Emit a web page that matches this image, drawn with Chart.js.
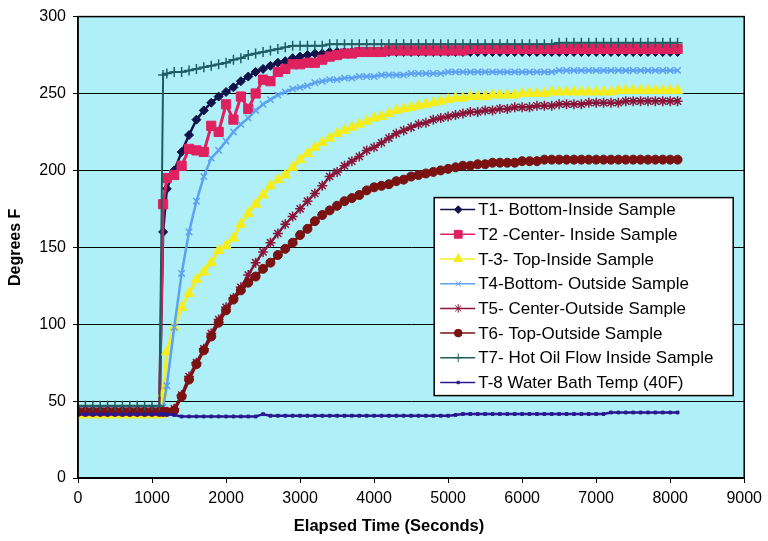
<!DOCTYPE html>
<html>
<head>
<meta charset="utf-8">
<title>Degrees F vs Elapsed Time</title>
<script src="https://cdn.jsdelivr.net/npm/chart.js@4.4.1/dist/chart.umd.min.js"></script>
<style>
  html, body { margin: 0; padding: 0; background: #fff; }
</style>
</head>
<body>
<canvas id="graph" width="768" height="541"></canvas>
<script>
// Elapsed time (seconds), shared by every series
const times = [0, 100, 200, 300, 400, 500, 600, 700, 800, 900, 1000, 1100, 1150,
  1200, 1300, 1400, 1500, 1600, 1700, 1800, 1900,
  2000, 2100, 2200, 2300, 2400, 2500, 2600, 2700, 2800, 2900,
  3000, 3100, 3200, 3300, 3400, 3500, 3600, 3700, 3800, 3900,
  4000, 4100, 4200, 4300, 4400, 4500, 4600, 4700, 4800, 4900,
  5000, 5100, 5200, 5300, 5400, 5500, 5600, 5700, 5800, 5900,
  6000, 6100, 6200, 6300, 6400, 6500, 6600, 6700, 6800, 6900,
  7000, 7100, 7200, 7300, 7400, 7500, 7600, 7700, 7800, 7900, 8000, 8100];

// temperatures, degrees F
const t1Bottom = [44, 44, 44, 44, 44, 44, 44, 44, 44, 44, 44, 44, 160,
  188, 200, 212, 223, 233, 239, 244, 248,
  251, 254, 258, 261, 264, 266, 268, 270, 271, 273,
  274, 275, 276, 276, 277, 277, 277, 277, 277, 277,
  277, 277, 277, 277, 277, 277, 277, 277, 277, 277,
  277, 277, 277, 277, 277, 277, 277, 277, 277, 277,
  277, 277, 277, 277, 277, 277, 277, 277, 277, 277,
  277, 277, 277, 277, 277, 277, 277, 277, 277, 277, 277, 277];
const t2Center = [44, 44, 44, 44, 44, 44, 44, 44, 44, 44, 44, 44, 178,
  195, 197, 203, 214, 213, 212, 229, 225,
  243, 233, 248, 240, 250, 259, 258, 264, 266, 269,
  269, 270, 270, 272, 274, 275, 276, 276, 277, 277,
  277, 277, 278, 278, 278, 278, 278, 278, 278, 278,
  278, 278, 278, 279, 279, 279, 279, 279, 279, 279,
  279, 279, 279, 279, 279, 279, 279, 279, 279, 279,
  279, 279, 279, 279, 279, 279, 279, 279, 279, 279, 279, 279];
const t3Top = [41, 41, 41, 41, 41, 41, 41, 41, 41, 41, 41, 41, 55,
  82, 98, 111, 120, 129, 134, 140, 148,
  151, 156, 165, 172, 178, 184, 190, 194, 197, 202,
  207, 211, 215, 218, 221, 224, 226, 228, 230, 232,
  234, 235, 237, 239, 240, 241, 242, 243, 244, 245,
  246, 247, 247, 248, 248, 248, 249, 249, 249, 249,
  250, 250, 250, 250, 251, 251, 251, 251, 251, 251,
  251, 251, 251, 252, 252, 252, 252, 252, 252, 252, 252, 252];
const t4BottomOut = [45, 45, 45, 45, 45, 45, 45, 45, 45, 45, 45, 45, 46,
  60, 98, 133, 160, 180, 196, 208, 213,
  219, 225, 230, 234, 239, 243, 246, 249, 251, 253,
  254, 255, 257, 258, 259, 259, 260, 260, 261, 261,
  261, 262, 262, 262, 262, 263, 263, 263, 263, 263,
  264, 264, 264, 264, 264, 264, 264, 264, 264, 264,
  264, 264, 264, 264, 264, 265, 265, 265, 265, 265,
  265, 265, 265, 265, 265, 265, 265, 265, 265, 265, 265, 265];
const t5CenterOut = [43, 43, 43, 43, 43, 43, 43, 43, 43, 43, 43, 43, 43,
  43, 45, 54, 66, 75, 84, 94, 103,
  111, 117, 124, 132, 140, 147, 153, 159, 165, 170,
  175, 180, 185, 190, 196, 199, 203, 206, 209, 213,
  215, 218, 221, 224, 226, 228, 230, 231, 233, 234,
  235, 236, 237, 238, 238, 239, 239, 240, 240, 241,
  241, 241, 242, 242, 242, 243, 243, 243, 243, 244,
  244, 244, 244, 244, 245, 245, 245, 245, 245, 245, 245, 245];
const t6TopOut = [43, 43, 43, 43, 43, 43, 43, 43, 43, 43, 43, 43, 43,
  43, 44, 53, 64, 74, 83, 92, 101,
  109, 116, 122, 127, 131, 136, 140, 145, 149, 153,
  158, 162, 167, 171, 174, 177, 180, 182, 184, 187,
  189, 190, 191, 193, 194, 196, 197, 198, 199, 200,
  201, 202, 203, 203, 204, 204, 205, 205, 205, 205,
  206, 206, 206, 207, 207, 207, 207, 207, 207, 207,
  207, 207, 207, 207, 207, 207, 207, 207, 207, 207, 207, 207];
const t7HotOil = [47, 47, 47, 47, 47, 47, 47, 47, 47, 47, 47, 47, 262,
  263, 264, 264, 265, 266, 267, 268, 269,
  270, 272, 273, 275, 276, 277, 278, 279, 280, 281,
  281, 281, 281, 281, 282, 282, 282, 282, 282, 282,
  282, 282, 282, 282, 282, 282, 282, 282, 282, 282,
  282, 282, 282, 282, 282, 282, 282, 282, 282, 282,
  282, 282, 282, 282, 282, 283, 283, 283, 283, 283,
  283, 283, 283, 283, 283, 283, 283, 283, 283, 283, 283, 283];
const t8WaterBath = [41.5, 41.5, 41.5, 41.5, 41.5, 41.5, 41.5, 41.5, 41.5, 41.5, 41.5, 41.5, 41.5,
  41.5, 41, 40, 40, 40, 40, 40, 40,
  40, 40, 40, 40, 40, 41.5, 40.5, 40.5, 40.5, 40.5,
  40.5, 40.5, 40.5, 40.5, 40.5, 40.5, 40.5, 40.5, 40.5, 40.5,
  40.5, 40.5, 40.5, 40.5, 40.5, 40.5, 40.5, 40.5, 40.5, 40.5,
  40.5, 41, 41.6, 41.6, 41.6, 41.6, 41.6, 41.6, 41.6, 41.6,
  41.6, 41.6, 41.6, 41.6, 41.6, 41.6, 41.6, 41.6, 41.6, 41.6,
  41.6, 41.6, 42.6, 42.6, 42.6, 42.6, 42.6, 42.6, 42.6, 42.6, 42.6, 42.6];

const seriesLabels = [
  'T1- Bottom-Inside Sample',
  'T2 -Center- Inside Sample',
  'T-3- Top-Inside Sample',
  'T4-Bottom- Outside Sample',
  'T5- Center-Outside Sample',
  'T6- Top-Outside Sample',
  'T7- Hot Oil Flow Inside Sample',
  'T-8 Water Bath Temp (40F)'
];
const seriesValues = [t1Bottom, t2Center, t3Top, t4BottomOut, t5CenterOut, t6TopOut, t7HotOil, t8WaterBath];
const xTicks = [0, 1000, 2000, 3000, 4000, 5000, 6000, 7000, 8000, 9000];
const yTicks = [0, 50, 100, 150, 200, 250, 300];

// look of each series: [colour, marker, marker radius, line width, marker line width]
const looks = [
  ['#12124a', 'rectRot', 4.5, 2.5, 1],
  ['#e0215f', 'rect', 6.5, 3, 1],
  ['#f4ee1e', 'triangle', 6, 3, 1],
  ['#5ea0f2', 'crossRot', 4.5, 2.5, 1.5],
  ['#8a1538', 'star', 5, 2.5, 1.5],
  ['#7b1212', 'circle', 4.5, 3, 1],
  ['#1f5c60', 'cross', 5, 2, 1.5],
  ['#2a1890', 'rect', 2, 2.5, 1]
];

const FONT = "'Liberation Sans', Arial, sans-serif";
Chart.defaults.font.family = FONT;
Chart.defaults.color = '#000';

// cyan plot area with black frame
const plotArea = {
  id: 'plotArea',
  beforeDraw(chart) {
    const { ctx, chartArea: a } = chart;
    ctx.save();
    ctx.fillStyle = '#aff0f8';
    ctx.fillRect(a.left, a.top, a.right - a.left, a.bottom - a.top);
    ctx.restore();
  },
  afterDraw(chart) {
    const { ctx, chartArea: a } = chart;
    ctx.save();
    ctx.strokeStyle = '#000';
    ctx.lineWidth = 1.5;
    ctx.strokeRect(a.left, a.top, a.right - a.left, a.bottom - a.top);
    // x title, sits a bit left of centre in the original
    ctx.fillStyle = '#000';
    ctx.font = 'bold 16.5px ' + FONT;
    ctx.textAlign = 'center';
    ctx.textBaseline = 'middle';
    ctx.fillText('Elapsed Time (Seconds)', a.left + 311, 526);
    ctx.restore();
  }
};

// boxed legend inside the plot
const legendBox = {
  id: 'legendBox',
  afterDraw(chart) {
    const { ctx, chartArea: a } = chart;
    const x0 = a.right - 310, y0 = a.top + 181, w = 299, h = 198;
    ctx.save();
    ctx.fillStyle = '#fff';
    ctx.fillRect(x0, y0, w, h);
    ctx.strokeStyle = '#000';
    ctx.lineWidth = 1.5;
    ctx.strokeRect(x0, y0, w, h);
    ctx.font = '17px ' + FONT;
    ctx.textBaseline = 'middle';
    chart.data.datasets.forEach(function (ds, i) {
      const cy = y0 + 12 + i * 24.7;
      ctx.strokeStyle = ds.borderColor;
      ctx.lineWidth = 1.5;
      ctx.beginPath();
      ctx.moveTo(x0 + 6, cy);
      ctx.lineTo(x0 + 41, cy);
      ctx.stroke();
      ctx.fillStyle = ds.pointBackgroundColor;
      ctx.lineWidth = 1;
      Chart.helpers.drawPoint(ctx, { pointStyle: ds.pointStyle, radius: ds.pointRadius * 0.85, borderWidth: 1, rotation: 0 }, x0 + 24, cy);
      ctx.fillStyle = '#000';
      ctx.fillText(ds.label, x0 + 44, cy + 1);
    });
    ctx.restore();
  }
};

const datasets = seriesValues.map(function (vals, i) {
  const lk = looks[i];
  return {
    label: seriesLabels[i],
    data: vals.map(function (v, j) { return { x: times[j], y: v }; }),
    borderColor: lk[0],
    backgroundColor: lk[0],
    pointBackgroundColor: lk[0],
    pointBorderColor: lk[0],
    pointStyle: lk[1],
    pointRadius: lk[2],
    borderWidth: lk[3],
    pointBorderWidth: lk[4],
    tension: 0,
    order: 8 - i // later series on top, like the original
  };
});

const chart = new Chart(document.getElementById('graph'), {
  type: 'line',
  data: { datasets: datasets },
  options: {
    responsive: false,
    animation: false,
    devicePixelRatio: 1,
    layout: { padding: { top: 12, right: 21, left: 0, bottom: 0 } },
    plugins: { legend: { display: false }, tooltip: { enabled: false } },
    scales: {
      x: {
        type: 'linear',
        min: 0,
        max: 9000,
        afterBuildTicks: function (s) { s.ticks = xTicks.map(function (v) { return { value: v }; }); },
        afterFit: function (s) { s.height = 63; },
        ticks: { font: { size: 16 }, color: '#000', padding: 6, maxRotation: 0, callback: function (v) { return String(v); } },
        grid: { drawOnChartArea: false, color: '#000', tickLength: 5 },
        border: { color: '#000', width: 1.5 }
      },
      y: {
        min: 0,
        max: 300,
        afterBuildTicks: function (s) { s.ticks = yTicks.map(function (v) { return { value: v }; }); },
        afterFit: function (s) { s.width = 78; },
        ticks: { font: { size: 16 }, color: '#000', padding: 7, callback: function (v) { return String(v); } },
        grid: { color: '#000', lineWidth: 1, tickLength: 5 },
        border: { color: '#000', width: 1.5 },
        title: { display: true, text: 'Degrees F', font: { size: 16, weight: 'bold' }, padding: { top: 6, bottom: 4 } }
      }
    }
  },
  plugins: [plotArea, legendBox]
});
</script>
</body>
</html>
